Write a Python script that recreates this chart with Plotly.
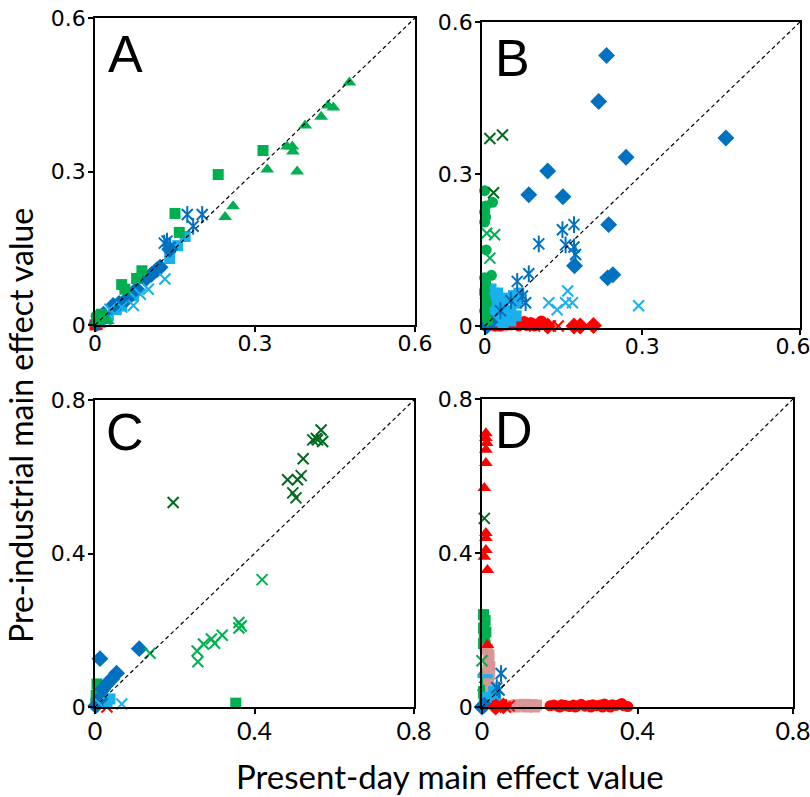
import plotly.graph_objects as go

# ---------------- DATA ----------------
# Panel A
A_grn_tri_x = [0.477, 0.437, 0.447, 0.424, 0.394, 0.360, 0.370, 0.371, 0.323, 0.379, 0.259, 0.244, 0.024]
A_grn_tri_y = [0.474, 0.429, 0.425, 0.407, 0.390, 0.349, 0.349, 0.339, 0.304, 0.300, 0.232, 0.211, 0.008]
A_grn_sq_x = [0.150, 0.158, 0.088, 0.078, 0.050, 0.056, 0.012, 0.004, 0.315, 0.231]
A_grn_sq_y = [0.218, 0.181, 0.106, 0.091, 0.079, 0.070, 0.021, 0.008, 0.341, 0.294]
A_grn_circ_x = [0.002, 0.008]
A_grn_circ_y = [0.018, 0.010]
A_dblue_ast_x = [0.173, 0.201, 0.184, 0.135, 0.141, 0.130]
A_dblue_ast_y = [0.216, 0.216, 0.193, 0.164, 0.152, 0.160]
A_dblue_dia_x = [0.140, 0.122, 0.116, 0.106, 0.095, 0.078, 0.059, 0.045, 0.034, 0.016, 0.008, 0.003]
A_dblue_dia_y = [0.148, 0.113, 0.108, 0.099, 0.090, 0.070, 0.050, 0.042, 0.038, 0.021, 0.010, 0.003]
A_lblue_sq_x = [0.169, 0.155, 0.140, 0.072, 0.050, 0.040, 0.025, 0.010]
A_lblue_sq_y = [0.173, 0.155, 0.130, 0.057, 0.037, 0.030, 0.018, 0.005]
A_lblue_x_x = [0.131, 0.100, 0.085, 0.072, 0.050, 0.028, 0.020]
A_lblue_x_y = [0.090, 0.070, 0.060, 0.038, 0.035, 0.031, 0.010]
A_red_x = [0.000, 0.004]
A_red_y = [0.000, 0.001]

# Panel B
B_dblue_dia_x = [0.232, 0.217, 0.459, 0.269, 0.120, 0.084, 0.149, 0.236, 0.171, 0.234, 0.244, 0.010, 0.004]
B_dblue_dia_y = [0.534, 0.443, 0.371, 0.333, 0.306, 0.259, 0.255, 0.200, 0.119, 0.095, 0.101, 0.008, 0.000]
B_dblue_ast_x = [0.148, 0.170, 0.103, 0.154, 0.170, 0.173, 0.084, 0.062, 0.072, 0.078, 0.050, 0.030]
B_dblue_ast_y = [0.190, 0.200, 0.162, 0.160, 0.156, 0.141, 0.103, 0.088, 0.059, 0.046, 0.050, 0.030]
B_lblue_x_x = [0.158, 0.122, 0.138, 0.154, 0.167, 0.293]
B_lblue_x_y = [0.069, 0.046, 0.032, 0.046, 0.046, 0.040]
B_dgrn_x_x = [0.010, 0.034, 0.017]
B_dgrn_x_y = [0.370, 0.377, 0.263]
B_grn_x_x = [0.004, 0.019, 0.010]
B_grn_x_y = [0.183, 0.180, 0.134]
B_grn_circ_x = [0.000, 0.015, 0.002, 0.000, 0.002, 0.000, 0.003, 0.013, 0.000, 0.002, 0.000, 0.001, 0.004, 0.000, 0.002, 0.006]
B_grn_circ_y = [0.267, 0.244, 0.237, 0.225, 0.215, 0.205, 0.150, 0.100, 0.095, 0.085, 0.070, 0.055, 0.045, 0.030, 0.020, 0.010]
B_lblue_sq_x = [0.005, 0.015, 0.025, 0.035, 0.045, 0.055, 0.010, 0.020, 0.030, 0.040, 0.050, 0.060,
                0.065, 0.005, 0.020, 0.035, 0.045, 0.015, 0.030, 0.050, 0.060, 0.025, 0.010]
B_lblue_sq_y = [0.045, 0.050, 0.040, 0.035, 0.055, 0.060, 0.025, 0.030, 0.020, 0.025, 0.030, 0.045,
                0.065, 0.010, 0.010, 0.005, 0.015, 0.055, 0.045, 0.010, 0.020, 0.065, 0.070]
B_lblue_dash_x = [0.008, 0.004, 0.018, 0.012]
B_lblue_dash_y = [0.080, 0.064, 0.066, 0.072]
B_red_dia_x = [0.170, 0.182, 0.207, 0.120]
B_red_dia_y = [0.000, 0.000, 0.001, 0.000]
B_red_circ_x = [0.045, 0.055, 0.062, 0.070, 0.078, 0.085, 0.092, 0.100, 0.108, 0.050, 0.065, 0.080,
                0.095, 0.060, 0.075, 0.088, 0.030, 0.020]
B_red_circ_y = [0.008, 0.010, 0.004, 0.006, 0.003, 0.005, 0.002, 0.004, 0.010, 0.002, 0.000, 0.001,
                0.000, 0.012, 0.009, 0.007, 0.000, 0.000]
B_red_x_x = [0.125, 0.140, 0.095]
B_red_x_y = [0.000, 0.000, 0.000]
B_pink_x = [0.010, 0.020, 0.035]
B_pink_y = [0.002, 0.000, 0.000]

# Panel C
C_dgrn_x_x = [0.196, 0.567, 0.546, 0.558, 0.571, 0.555, 0.522, 0.483, 0.517, 0.508, 0.496, 0.504]
C_dgrn_x_y = [0.533, 0.722, 0.696, 0.696, 0.692, 0.700, 0.647, 0.592, 0.603, 0.592, 0.558, 0.545]
C_grn_x_x = [0.419, 0.361, 0.367, 0.361, 0.319, 0.292, 0.300, 0.272, 0.256, 0.258, 0.138]
C_grn_x_y = [0.332, 0.220, 0.211, 0.206, 0.187, 0.177, 0.166, 0.164, 0.146, 0.118, 0.140]
C_grn_sq_x = [0.353, 0.005, 0.010, 0.003, 0.012, 0.008, 0.002, 0.020]
C_grn_sq_y = [0.010, 0.060, 0.045, 0.030, 0.020, 0.050, 0.010, 0.035]
C_dblue_dia_x = [0.111, 0.0125, 0.054, 0.042, 0.030, 0.020, 0.0125, 0.002]
C_dblue_dia_y = [0.152, 0.126, 0.088, 0.073, 0.060, 0.047, 0.021, 0.003]
C_lblue_x_x = [0.067, 0.010]
C_lblue_x_y = [0.008, 0.010]
C_lblue_sq_x = [0.0375, 0.030]
C_lblue_sq_y = [0.021, 0.010]
C_red_x_x = [0.030]
C_red_x_y = [0.000]

# Panel D
D_red_tri_x = [0.010, 0.010, 0.012, 0.010, 0.010, 0.006, 0.010, 0.010, 0.010, 0.006, 0.014, 0.014]
D_red_tri_y = [0.711, 0.699, 0.686, 0.668, 0.634, 0.569, 0.452, 0.439, 0.408, 0.390, 0.356, 0.161]
D_dgrn_x_x = [0.006]
D_dgrn_x_y = [0.490]
D_grn_x_x = [0.000]
D_grn_x_y = [0.120]
D_grn_sq_x = [0.004, 0.008, 0.004, 0.010, 0.006, 0.004, 0.008, 0.004, 0.006]
D_grn_sq_y = [0.240, 0.225, 0.205, 0.195, 0.180, 0.165, 0.160, 0.040, 0.020]
D_grn_tri_x = [0.005, 0.008, 0.004, 0.006]
D_grn_tri_y = [0.090, 0.070, 0.050, 0.030]
D_pink_x = [0.014, 0.018, 0.016, 0.020, 0.015, 0.019, 0.017, 0.022, 0.025,
            0.080, 0.090, 0.100, 0.110, 0.120, 0.130, 0.140, 0.085, 0.115, 0.135]
D_pink_y = [0.150, 0.135, 0.120, 0.105, 0.095, 0.085, 0.072, 0.050, 0.030,
            0.004, 0.006, 0.003, 0.007, 0.004, 0.006, 0.005, 0.000, 0.000, 0.000]
D_lblue_dash_x = [0.008]
D_lblue_dash_y = [0.080]
D_lblue_sq_x = [0.015, 0.025, 0.035, 0.020, 0.030]
D_lblue_sq_y = [0.025, 0.020, 0.030, 0.010, 0.040]
D_dblue_ast_x = [0.049, 0.044, 0.038]
D_dblue_ast_y = [0.087, 0.044, 0.050]
D_dblue_dia_x = [0.000, 0.006]
D_dblue_dia_y = [0.000, 0.005]
D_red_circ_x = [0.175, 0.185, 0.195, 0.205, 0.215, 0.225, 0.235, 0.245, 0.255, 0.265, 0.275, 0.285,
                0.295, 0.305, 0.315, 0.325, 0.335, 0.345, 0.355, 0.365, 0.375, 0.200, 0.240, 0.280,
                0.310, 0.330, 0.360]
D_red_circ_y = [0.003, 0.005, 0.002, 0.006, 0.004, 0.001, 0.005, 0.003, 0.007, 0.002, 0.004, 0.006,
                0.003, 0.005, 0.008, 0.002, 0.006, 0.004, 0.007, 0.003, 0.001, 0.000, 0.000, 0.000,
                0.000, 0.000, 0.009]
D_red_x_x = [0.040, 0.050, 0.060, 0.070]
D_red_x_y = [0.002, 0.005, 0.000, 0.003]
D_red_dia_x = [0.035, 0.055]
D_red_dia_y = [0.000, 0.003]

diag_AB = [0, 0.6]
diag_CD = [0, 0.8]
ticks_AB = [0, 0.3, 0.6]
ticks_CD = [0, 0.4, 0.8]
tick_text_AB = ["0", "0.3", "0.6"]
tick_text_B_x = ["0", "0.3", "0.6\u00a0\u00a0"]
tick_text_CD = ["0", "0.4", "0.8"]
panel_letters = ["A", "B", "C", "D"]
x_title = "Present-day main effect value"
y_title = "Pre-industrial main effect value"

# ---------------- STYLE ----------------
GRN = "#00B050"
DGRN = "#006A1E"
DBLUE = "#0070C0"
LBLUE = "#1AB0EC"
RED = "#FF0000"
PINK = "#D99694"

W, H = 810, 797
axes = {"A": ("x", "y"), "B": ("x2", "y2"), "C": ("x3", "y3"), "D": ("x4", "y4")}

fig = go.Figure()


def add(panel, xs, ys, kind, color):
    xa, ya = axes[panel]
    common = dict(x=xs, y=ys, xaxis=xa, yaxis=ya, mode="markers", showlegend=False,
                  cliponaxis=False, hoverinfo="skip")
    if kind == "sq":
        m = dict(symbol="square", size=11, color=color)
    elif kind == "tri":
        m = dict(symbol="triangle-up", size=12, color=color)
    elif kind == "dia":
        m = dict(symbol="diamond", size=13, color=color)
    elif kind == "circ":
        m = dict(symbol="circle", size=11, color=color)
    elif kind == "x":
        m = dict(symbol="x-thin-open", size=11, color=color, line=dict(color=color, width=2))
    elif kind == "dash":
        m = dict(symbol="line-ew-open", size=11, color=color, line=dict(color=color, width=4))
    elif kind == "ast":
        fig.add_trace(go.Scatter(marker=dict(symbol="line-ns-open", size=12, color=color,
                                             line=dict(color=color, width=2)), **common))
        m = dict(symbol="x-thin-open", size=11, color=color, line=dict(color=color, width=2))
    fig.add_trace(go.Scatter(marker=m, **common))


def diag(panel, d):
    xa, ya = axes[panel]
    fig.add_trace(go.Scatter(x=d, y=d, xaxis=xa, yaxis=ya, mode="lines", showlegend=False,
                             hoverinfo="skip", line=dict(color="black", width=1.2, dash="4px,3px")))


# Panel A
add("A", A_red_x, A_red_y, "sq", RED)
add("A", A_lblue_sq_x, A_lblue_sq_y, "sq", LBLUE)
add("A", A_dblue_dia_x, A_dblue_dia_y, "dia", DBLUE)
add("A", A_dblue_ast_x, A_dblue_ast_y, "ast", DBLUE)
add("A", A_lblue_x_x, A_lblue_x_y, "x", LBLUE)
add("A", A_grn_circ_x, A_grn_circ_y, "circ", GRN)
add("A", A_grn_sq_x, A_grn_sq_y, "sq", GRN)
add("A", A_grn_tri_x, A_grn_tri_y, "tri", GRN)
diag("A", diag_AB)

# Panel B
add("B", B_pink_x, B_pink_y, "sq", PINK)
add("B", B_red_circ_x, B_red_circ_y, "circ", RED)
add("B", B_red_dia_x, B_red_dia_y, "dia", RED)
add("B", B_red_x_x, B_red_x_y, "x", RED)
add("B", B_lblue_sq_x, B_lblue_sq_y, "sq", LBLUE)
add("B", B_lblue_dash_x, B_lblue_dash_y, "dash", LBLUE)
add("B", B_dblue_dia_x, B_dblue_dia_y, "dia", DBLUE)
add("B", B_dblue_ast_x, B_dblue_ast_y, "ast", DBLUE)
add("B", B_lblue_x_x, B_lblue_x_y, "x", LBLUE)
add("B", B_grn_circ_x, B_grn_circ_y, "circ", GRN)
add("B", B_grn_x_x, B_grn_x_y, "x", GRN)
add("B", B_dgrn_x_x, B_dgrn_x_y, "x", DGRN)
diag("B", diag_AB)

# Panel C
add("C", C_red_x_x, C_red_x_y, "x", RED)
add("C", C_grn_sq_x, C_grn_sq_y, "sq", GRN)
add("C", C_lblue_sq_x, C_lblue_sq_y, "sq", LBLUE)
add("C", C_dblue_dia_x, C_dblue_dia_y, "dia", DBLUE)
add("C", C_lblue_x_x, C_lblue_x_y, "x", LBLUE)
add("C", C_grn_x_x, C_grn_x_y, "x", GRN)
add("C", C_dgrn_x_x, C_dgrn_x_y, "x", DGRN)
diag("C", diag_CD)

# Panel D
add("D", D_grn_tri_x, D_grn_tri_y, "tri", GRN)
add("D", D_grn_sq_x, D_grn_sq_y, "sq", GRN)
add("D", D_pink_x, D_pink_y, "sq", PINK)
add("D", D_lblue_dash_x, D_lblue_dash_y, "dash", LBLUE)
add("D", D_lblue_sq_x, D_lblue_sq_y, "sq", LBLUE)
add("D", D_dblue_dia_x, D_dblue_dia_y, "dia", DBLUE)
add("D", D_dblue_ast_x, D_dblue_ast_y, "ast", DBLUE)
add("D", D_red_circ_x, D_red_circ_y, "circ", RED)
add("D", D_red_dia_x, D_red_dia_y, "dia", RED)
add("D", D_red_x_x, D_red_x_y, "x", RED)
add("D", D_grn_x_x, D_grn_x_y, "x", GRN)
add("D", D_dgrn_x_x, D_dgrn_x_y, "x", DGRN)
add("D", D_red_tri_x, D_red_tri_y, "tri", RED)
diag("D", diag_CD)


def xdom(p0, p1):
    return [p0 / W, p1 / W]


def ydom(top, bot):
    return [1 - bot / H, 1 - top / H]


tick_font = dict(family="DejaVu Sans", size=22, color="black")
tick_font_b = dict(family="Lato", size=25, color="black")


def ax(domain, rng, tv, tt, anchor, font, standoff):
    return dict(domain=domain, range=rng, tickvals=tv, ticktext=tt, anchor=anchor,
                showline=True, mirror=True, linecolor="black", linewidth=1.5,
                ticks="outside", ticklen=5, tickwidth=1.5, tickcolor="black",
                showgrid=False, zeroline=False, tickfont=font, fixedrange=True,
                automargin=False, ticklabeloverflow="allow", ticklabelstandoff=standoff)


layout = dict(
    width=W, height=H, autosize=False,
    margin=dict(l=0, r=0, t=0, b=0, pad=0),
    paper_bgcolor="white", plot_bgcolor="white",
    xaxis=ax(xdom(95, 415), [0, 0.6], ticks_AB, tick_text_AB, "y", tick_font, -7),
    yaxis=ax(ydom(18, 325), [0, 0.6], ticks_AB, tick_text_AB, "x", tick_font, -2),
    xaxis2=ax(xdom(482, 800), [-0.005, 0.6], ticks_AB, tick_text_B_x, "y2", tick_font, -7),
    yaxis2=ax(ydom(22, 328), [-0.004, 0.6], ticks_AB, tick_text_AB, "x2", tick_font, -2),
    xaxis3=ax(xdom(95, 414), [0, 0.8], ticks_CD, tick_text_CD, "y3", tick_font_b, -4),
    yaxis3=ax(ydom(400, 707), [0, 0.8], ticks_CD, tick_text_CD, "x3", tick_font, -2),
    xaxis4=ax(xdom(482, 793), [0, 0.8], ticks_CD, tick_text_CD, "y4", tick_font_b, -4),
    yaxis4=ax(ydom(399, 707), [0, 0.8], ticks_CD, tick_text_CD, "x4", tick_font, -2),
)
fig.update_layout(**layout)

letter_pos = [(106, 54), (493, 58), (104, 432), (493, 430)]
for letter, (lx, ly) in zip(panel_letters, letter_pos):
    fig.add_annotation(text=letter, xref="paper", yref="paper", x=lx / W, y=1 - ly / H,
                       xanchor="left", yanchor="middle", showarrow=False,
                       font=dict(family="Liberation Sans", size=52, color="black"))

fig.add_annotation(text=x_title, xref="paper", yref="paper", x=450 / W, y=1 - 776 / H,
                   xanchor="center", yanchor="middle", showarrow=False,
                   font=dict(family="Lato", size=33, color="black"))
fig.add_annotation(text=y_title, xref="paper", yref="paper", x=20 / W, y=1 - 426 / H,
                   xanchor="center", yanchor="middle", showarrow=False, textangle=-90,
                   font=dict(family="Lato", size=32, color="black"))

fig.write_html("out.html", config={"displayModeBar": False},
               post_script="document.body.style.margin='0';document.body.style.overflow='hidden';")
